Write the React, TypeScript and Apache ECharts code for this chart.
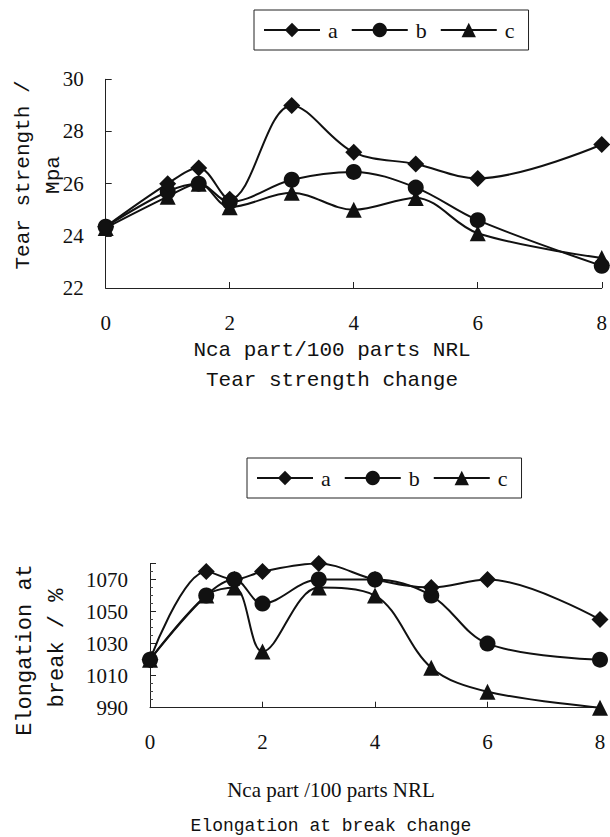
import React, { useEffect, useRef } from "react";
import * as echarts from "echarts";

const xValues = [0, 1, 1.5, 2, 3, 4, 5, 6, 8];
const seriesNames = ["a", "b", "c"];
const seriesSymbols = ["diamond", "circle", "triangle"];
const symbolSizes = [17, 16, 16];

const tearA = [24.35, 26.0, 26.6, 25.4, 29.0, 27.2, 26.75, 26.2, 27.5];
const tearB = [24.35, 25.7, 26.0, 25.3, 26.15, 26.45, 25.85, 24.6, 22.85];
const tearC = [24.3, 25.5, 26.0, 25.1, 25.65, 25.0, 25.45, 24.1, 23.15];

const elongA = [1020, 1075, 1070, 1075, 1080, 1070, 1065, 1070, 1045];
const elongB = [1020, 1060, 1070, 1055, 1070, 1070, 1060, 1030, 1020];
const elongC = [1020, 1060, 1065, 1025, 1065, 1060, 1015, 1000, 990];

const topTitle = "Tear strength change";
const topXName = "Nca part/100 parts NRL";
const topYNameLines = ["Tear strength /", "Mpa"];
const bottomTitle = "Elongation at break change";
const bottomXName = "Nca part /100 parts NRL";
const bottomYNameLines = ["Elongation at", "break / %"];

const MONO = "Liberation Mono";
const SERIF = "Liberation Serif";
const INK = "#111";

export default function App() {
  const ref = useRef<HTMLDivElement>(null);
  useEffect(() => {
    document.body.style.margin = "0";
    if (!ref.current) return;
    const chart = echarts.init(ref.current, null, { renderer: "svg" });
    const pair = (xs: number[], ys: number[]) => xs.map((x, i) => [x, ys[i]]);
    const mkSeries = (data: number[][], i: number, gi: number) => ({
      type: "line",
      name: seriesNames[i],
      xAxisIndex: gi,
      yAxisIndex: gi,
      data,
      smooth: 0.35,
      symbol: seriesSymbols[i],
      symbolSize: symbolSizes[i],
      showAllSymbol: true,
      clip: false,
      itemStyle: { color: INK },
      lineStyle: { color: INK, width: 2 },
      z: 3 - i,
    });
    const axisCommon = {
      axisLine: { show: true, lineStyle: { color: "#222", width: 1 } },
      axisTick: { show: true, inside: true, length: 6, lineStyle: { color: "#222" } },
      splitLine: { show: false },
    };
    const legendCommon = {
      orient: "horizontal",
      itemWidth: 56,
      itemHeight: 18,
      itemGap: 13,
      borderColor: "#222",
      borderWidth: 1,
      padding: [9, 14, 9, 9],
      textStyle: { fontFamily: SERIF, fontSize: 22, color: INK, padding: [0, 0, 0, 3] },
      data: seriesNames,
      selectedMode: false,
    };
    const txt = (text: string, x: number, y: number, font: string, rot = 0) => ({
      type: "text",
      x,
      y,
      rotation: rot,
      style: { text, font, fill: INK, align: "center", verticalAlign: "middle" },
    });
    chart.setOption({
      animation: false,
      backgroundColor: "#fff",
      legend: [
        { ...legendCommon, left: 254, top: 10 },
        { ...legendCommon, left: 247, top: 458 },
      ],
      grid: [
        { left: 105.7, right: 4.3, top: 79.3, bottom: 549, containLabel: false },
        { left: 150, right: 10, top: 563.5, bottom: 129.3, containLabel: false },
      ],
      xAxis: [
        {
          type: "value", gridIndex: 0, min: 0, max: 8, interval: 2,
          ...axisCommon,
          axisLabel: { margin: 24, fontFamily: SERIF, fontSize: 21, color: INK },
        },
        {
          type: "value", gridIndex: 1, min: 0, max: 8, interval: 2,
          ...axisCommon,
          axisLabel: { margin: 24, fontFamily: SERIF, fontSize: 21, color: INK },
        },
      ],
      yAxis: [
        {
          type: "value", gridIndex: 0, min: 22, max: 30, interval: 2,
          ...axisCommon,
          axisLabel: { margin: 22, fontFamily: SERIF, fontSize: 21, color: INK },
        },
        {
          type: "value", gridIndex: 1, min: 990, max: 1080, interval: 20,
          ...axisCommon,
          minorTick: { show: true, splitNumber: 4, length: 3, lineStyle: { color: "#444" } },
          axisLabel: {
            margin: 22, fontFamily: SERIF, fontSize: 21, color: INK,
            formatter: (v: number) => (v === 1080 ? "" : String(v)),
          },
        },
      ],
      graphic: [
        txt(topYNameLines[0], 23, 175, `21px "${MONO}"`, Math.PI / 2),
        txt(topYNameLines[1], 53, 175, `21px "${MONO}"`, Math.PI / 2),
        txt(bottomYNameLines[0], 25, 650, `22px "${MONO}"`, Math.PI / 2),
        txt(bottomYNameLines[1], 57, 648, `22px "${MONO}"`, Math.PI / 2),
        txt(topXName, 332, 350, `21px "${MONO}"`),
        txt(topTitle, 332, 380, `21px "${MONO}"`),
        txt(bottomXName, 331, 790, `21px "${SERIF}"`),
        txt(bottomTitle, 331, 826, `18px "${MONO}"`),
      ],
      series: [
        mkSeries(pair(xValues, tearA), 0, 0),
        mkSeries(pair(xValues, tearB), 1, 0),
        mkSeries(pair(xValues, tearC), 2, 0),
        mkSeries(pair(xValues, elongA), 0, 1),
        mkSeries(pair(xValues, elongB), 1, 1),
        mkSeries(pair(xValues, elongC), 2, 1),
      ],
    });
    return () => chart.dispose();
  }, []);
  return <div ref={ref} style={{ width: 610, height: 837, position: "absolute", left: 0, top: 0 }} />;
}
